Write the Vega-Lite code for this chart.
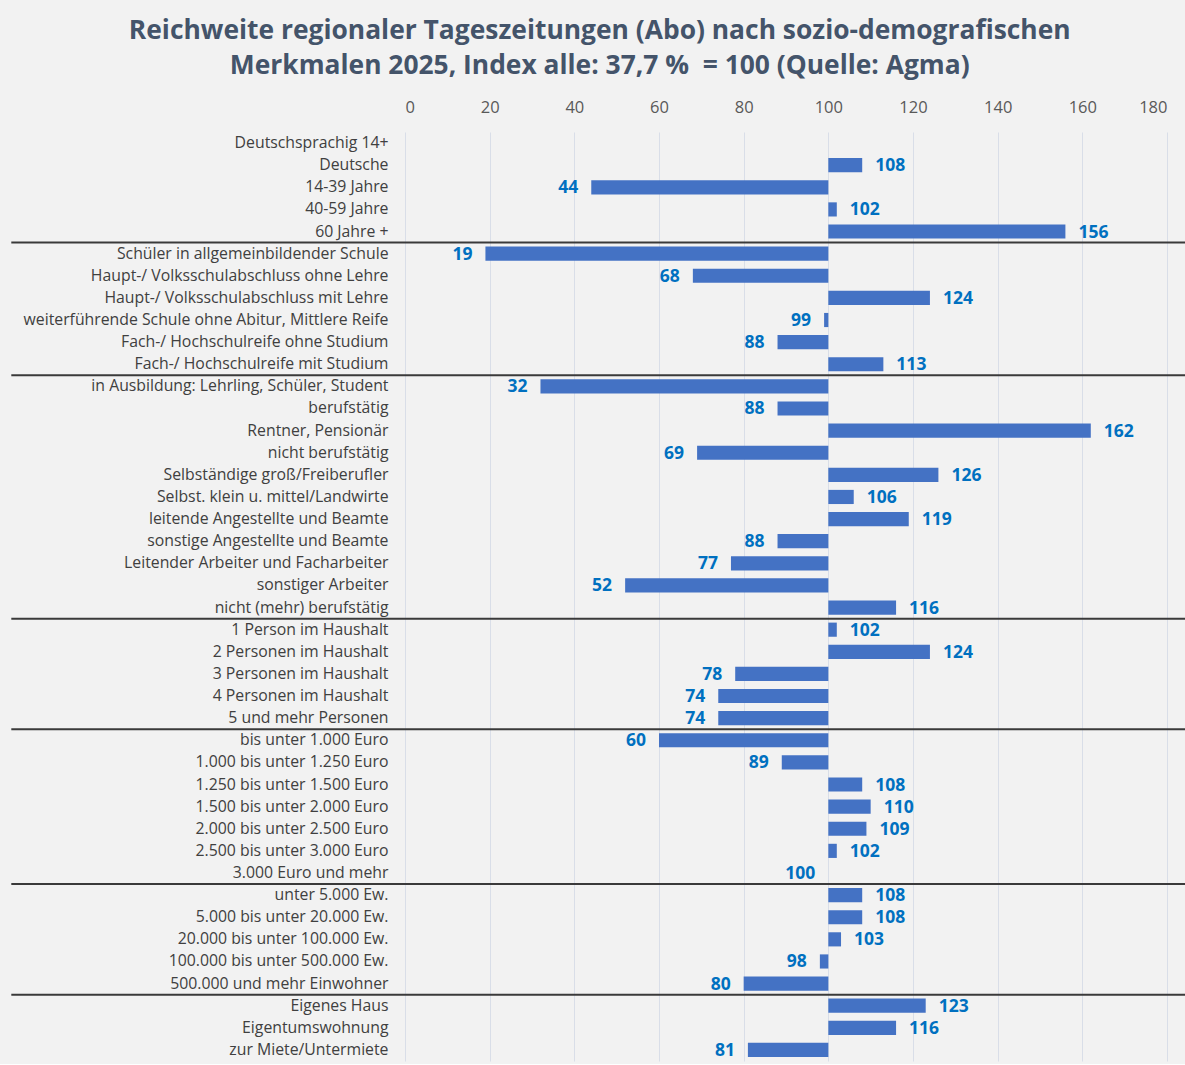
{
  "$schema": "https://vega.github.io/schema/vega-lite/v6.json",
  "background": "#f2f2f2",
  "padding": {"left": 10, "top": 17, "right": 0, "bottom": 3},
  "width": 762,
  "height": 929,
  "title": {
    "text": ["Reichweite regionaler Tageszeitungen (Abo) nach sozio-demografischen", "Merkmalen 2025, Index alle: 37,7 % \u00a0= 100 (Quelle: Agma)"],
    "font": "Open Sans",
    "fontSize": 26.4,
    "fontWeight": "bold",
    "color": "#44546a",
    "lineHeight": 35,
    "anchor": "middle",
    "frame": "bounds",
    "offset": 20
  },
  "config": {
    "view": {"stroke": null},
    "font": "Open Sans"
  },
  "data": {
    "values": [
      {"cat": "Deutschsprachig 14+", "value": 100, "group": 1},
      {"cat": "Deutsche", "value": 108, "group": 1},
      {"cat": "14-39 Jahre", "value": 44, "group": 1},
      {"cat": "40-59 Jahre", "value": 102, "group": 1},
      {"cat": "60 Jahre +", "value": 156, "group": 1},
      {"cat": "Schüler in allgemeinbildender Schule", "value": 19, "group": 2},
      {"cat": "Haupt-/ Volksschulabschluss ohne Lehre", "value": 68, "group": 2},
      {"cat": "Haupt-/ Volksschulabschluss mit Lehre", "value": 124, "group": 2},
      {"cat": "weiterführende Schule ohne Abitur, Mittlere Reife", "value": 99, "group": 2},
      {"cat": "Fach-/ Hochschulreife ohne Studium", "value": 88, "group": 2},
      {"cat": "Fach-/ Hochschulreife mit Studium", "value": 113, "group": 2},
      {"cat": "in Ausbildung: Lehrling, Schüler, Student", "value": 32, "group": 3},
      {"cat": "berufstätig", "value": 88, "group": 3},
      {"cat": "Rentner, Pensionär", "value": 162, "group": 3},
      {"cat": "nicht berufstätig", "value": 69, "group": 3},
      {"cat": "Selbständige groß/Freiberufler", "value": 126, "group": 3},
      {"cat": "Selbst. klein u. mittel/Landwirte", "value": 106, "group": 3},
      {"cat": "leitende Angestellte und Beamte", "value": 119, "group": 3},
      {"cat": "sonstige Angestellte und Beamte", "value": 88, "group": 3},
      {"cat": "Leitender Arbeiter und Facharbeiter", "value": 77, "group": 3},
      {"cat": "sonstiger Arbeiter", "value": 52, "group": 3},
      {"cat": "nicht (mehr) berufstätig", "value": 116, "group": 3},
      {"cat": "1 Person im Haushalt", "value": 102, "group": 4},
      {"cat": "2 Personen im Haushalt", "value": 124, "group": 4},
      {"cat": "3 Personen im Haushalt", "value": 78, "group": 4},
      {"cat": "4 Personen im Haushalt", "value": 74, "group": 4},
      {"cat": "5 und mehr Personen", "value": 74, "group": 4},
      {"cat": "bis unter 1.000 Euro", "value": 60, "group": 5},
      {"cat": "1.000 bis unter 1.250 Euro", "value": 89, "group": 5},
      {"cat": "1.250 bis unter 1.500 Euro", "value": 108, "group": 5},
      {"cat": "1.500 bis unter 2.000 Euro", "value": 110, "group": 5},
      {"cat": "2.000 bis unter 2.500 Euro", "value": 109, "group": 5},
      {"cat": "2.500 bis unter 3.000 Euro", "value": 102, "group": 5},
      {"cat": "3.000 Euro und mehr", "value": 100, "group": 5},
      {"cat": "unter 5.000 Ew.", "value": 108, "group": 6},
      {"cat": "5.000 bis unter 20.000 Ew.", "value": 108, "group": 6},
      {"cat": "20.000 bis unter 100.000 Ew.", "value": 103, "group": 6},
      {"cat": "100.000 bis unter 500.000 Ew.", "value": 98, "group": 6},
      {"cat": "500.000 und mehr Einwohner", "value": 80, "group": 6},
      {"cat": "Eigenes Haus", "value": 123, "group": 7},
      {"cat": "Eigentumswohnung", "value": 116, "group": 7},
      {"cat": "zur Miete/Untermiete", "value": 81, "group": 7}
    ]
  },
  "encoding": {
    "y": {
      "field": "cat",
      "type": "nominal",
      "sort": null,
      "scale": {"paddingInner": 0.36, "paddingOuter": 0.18},
      "axis": {
        "title": null,
        "ticks": false,
        "domain": false,
        "labelFont": "Open Sans",
        "labelFontSize": 15.8,
        "labelColor": "#404040",
        "labelPadding": 17,
        "labelLimit": 500
      }
    }
  },
  "layer": [
    {
      "mark": {"type": "bar", "color": "#4472c4"},
      "encoding": {
        "x": {
          "field": "value",
          "type": "quantitative",
          "scale": {"domain": [0, 180], "nice": false},
          "axis": {
            "orient": "top",
            "title": null,
            "values": [0, 20, 40, 60, 80, 100, 120, 140, 160, 180],
            "ticks": false,
            "domain": false,
            "grid": true,
            "gridColor": "#d9dee8",
            "gridWidth": 1,
            "labelFont": "Open Sans",
            "labelFontSize": 16.5,
            "labelColor": "#595959",
            "labelPadding": 17
          }
        },
        "x2": {"datum": 100}
      }
    },
    {
      "transform": [{"filter": "datum.value > 100"}],
      "mark": {"type": "text", "align": "left", "baseline": "middle", "dx": 13, "dy": 1, "font": "Open Sans", "fontSize": 17.5, "fontWeight": "bold", "color": "#0070c0"},
      "encoding": {
        "x": {"field": "value", "type": "quantitative"},
        "text": {"field": "value", "type": "quantitative"}
      }
    },
    {
      "transform": [{"filter": "datum.value <= 100 && datum.cat !== 'Deutschsprachig 14+'"}],
      "mark": {"type": "text", "align": "right", "baseline": "middle", "dx": -13, "dy": 1, "font": "Open Sans", "fontSize": 17.5, "fontWeight": "bold", "color": "#0070c0"},
      "encoding": {
        "x": {"field": "value", "type": "quantitative"},
        "text": {"field": "value", "type": "quantitative"}
      }
    },
    {
      "transform": [
        {"window": [{"op": "row_number", "as": "rn"}], "groupby": ["group"]},
        {"filter": "datum.rn == 1 && datum.group > 1"}
      ],
      "mark": {"type": "rule", "color": "#3a3a3a", "strokeWidth": 2, "clip": false},
      "encoding": {
        "y": {"field": "cat", "type": "nominal", "sort": null, "bandPosition": -0.28},
        "x": {"datum": -93},
        "x2": {"datum": 185}
      }
    }
  ]
}
